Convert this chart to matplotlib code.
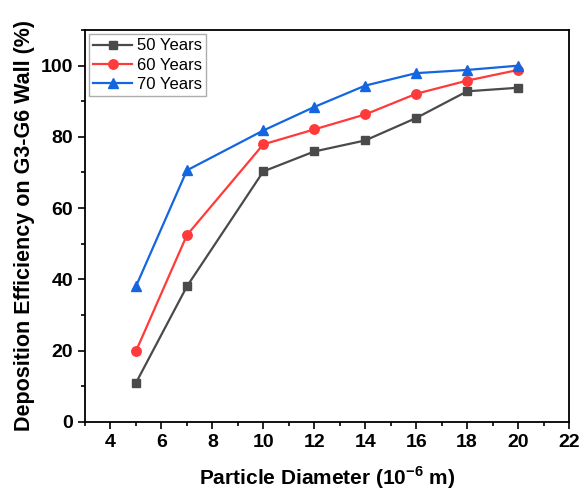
import matplotlib
matplotlib.use('Agg')
import matplotlib.pyplot as plt
from matplotlib.ticker import MultipleLocator

# particle diameter (1e-6 m)
diameter = [5, 7, 10, 12, 14, 16, 18, 20]
eff_50 = [10.9, 38.0, 70.3, 75.9, 79.0, 85.3, 92.8, 93.8]
eff_60 = [19.8, 52.4, 77.9, 82.1, 86.3, 92.1, 95.8, 98.8]
eff_70 = [38.0, 70.6, 81.8, 88.4, 94.4, 97.9, 98.8, 100.0]

plt.rcParams['font.family'] = ['Arial', 'Liberation Sans', 'DejaVu Sans']
plt.rcParams['mathtext.fontset'] = 'custom'
plt.rcParams['mathtext.rm'] = 'Liberation Sans'
plt.rcParams['mathtext.bf'] = 'Liberation Sans:bold'

fig = plt.figure(figsize=(5.83, 4.93), dpi=100)
ax = fig.add_axes([0.1458, 0.1446, 0.8302, 0.7944])

ax.plot(diameter, eff_50, color='#4a4a4a', marker='s', ms=6.3, lw=1.6, label='50 Years')
ax.plot(diameter, eff_60, color='#ff3a3a', marker='o', ms=6.8, lw=1.6, label='60 Years')
ax.plot(diameter, eff_70, color='#1466e0', marker='^', ms=7.5, lw=1.6, label='70 Years')

ax.set_xlim(3, 22)
ax.set_ylim(0, 110)
ax.set_xticks(range(4, 23, 2))
ax.xaxis.set_minor_locator(MultipleLocator(1))
ax.yaxis.set_major_locator(MultipleLocator(20))
ax.yaxis.set_minor_locator(MultipleLocator(10))
ax.tick_params(which='both', direction='out', top=False, right=False, width=1.2)
ax.tick_params(which='major', length=5, labelsize=14)
ax.tick_params(which='minor', length=3)
for lbl in ax.get_xticklabels() + ax.get_yticklabels():
    lbl.set_fontweight('bold')
for sp in ax.spines.values():
    sp.set_linewidth(1.3)

ax.set_xlabel('Particle Diameter (10$^{\\mathbf{-6}}$ m)', fontsize=15, fontweight='bold', labelpad=10)
ax.set_ylabel('Deposition Efficiency on G3-G6 Wall (%)', fontsize=15.5, fontweight='bold', labelpad=4)

leg = ax.legend(loc='upper left', fontsize=12, fancybox=False, edgecolor='#999999',
                borderaxespad=0.25, handlelength=2.3, handletextpad=0.3,
                labelspacing=0.25, borderpad=0.25)
leg.get_frame().set_linewidth(1.0)

fig.savefig('out.png', dpi=100)
